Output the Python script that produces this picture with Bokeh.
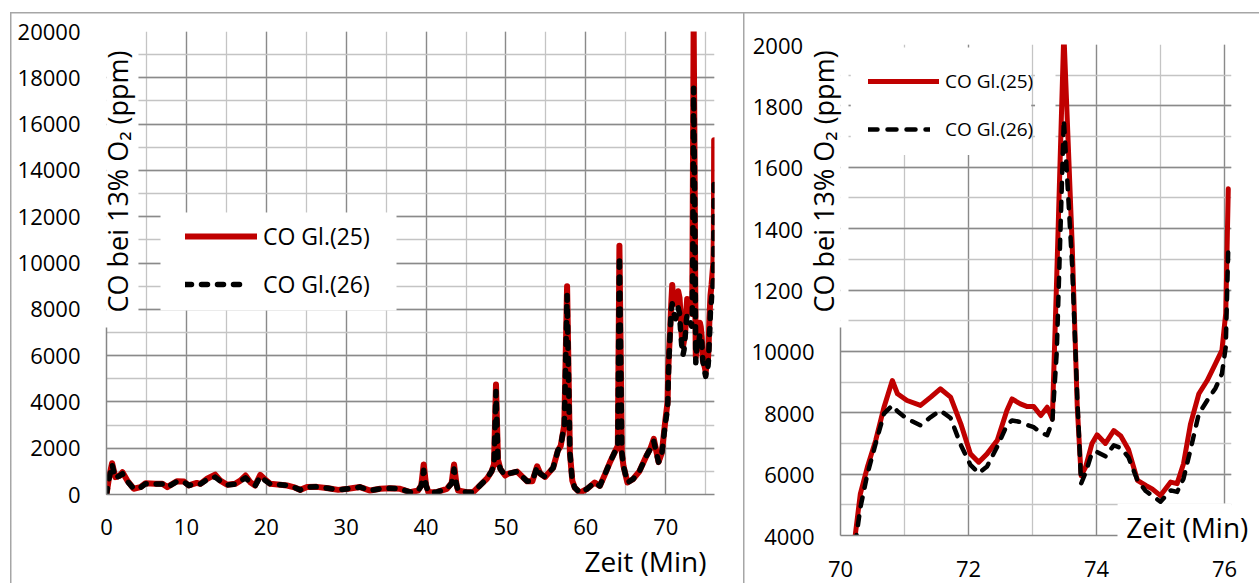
from bokeh.plotting import figure
from bokeh.models import (Range1d, SingleIntervalTicker, FixedTicker, LinearAxis,
                          BoxAnnotation, Legend, LegendItem, ColumnDataSource)
from bokeh.embed import file_html
from bokeh.resources import INLINE

# ---------------- data ----------------
zeit_min = [
    0.0, 0.3, 0.7, 1.1, 1.6, 2.0, 2.6, 3.4, 4.25, 4.9, 6.1, 7.0, 7.6, 8.8, 9.7,
    10.3, 11.3, 11.75, 12.6, 13.6, 14.25, 15.1, 16.1, 16.75, 17.4, 18.0, 18.6,
    19.25, 19.9, 20.5, 21.75, 22.6, 23.4, 24.25, 25.1, 26.3, 27.75, 29.0, 30.25,
    31.75, 33.0, 34.25, 35.5, 36.75, 38.0, 39.0, 39.4, 39.7, 40.0, 40.3, 41.3,
    42.6, 43.2, 43.5, 43.8, 44.0, 45.1, 45.9, 46.75, 47.6, 48.2, 48.5, 48.75,
    49.0, 49.3, 49.9, 50.3, 51.4, 52.65, 53.3, 53.9, 54.3, 54.9, 55.9, 56.5,
    56.85, 57.3, 57.65, 58.0, 58.3, 58.6, 59.25, 60.1, 61.1, 61.75, 62.4, 63.0,
    63.6, 64.0, 64.2, 64.5, 64.7, 65.2, 65.9, 66.7, 67.6, 68.1, 68.5, 69.1,
    69.5, 69.95,
    70.23, 70.31, 70.42, 70.55, 70.68, 70.81, 70.89, 71.04, 71.25, 71.41,
    71.56, 71.72, 71.88, 72.03, 72.16, 72.29, 72.45, 72.6, 72.68, 72.81,
    72.92, 73.02, 73.13, 73.23, 73.31, 73.38, 73.49, 73.62, 73.7, 73.76,
    73.83, 73.93, 74.01, 74.14, 74.27, 74.38, 74.5, 74.64, 74.77, 74.87,
    75.0, 75.16, 75.26, 75.36, 75.47, 75.6, 75.73, 75.86, 75.96, 76.02, 76.06,
]

co_gl25 = [
    0, 700, 1350, 750, 800, 960, 600, 250, 320, 490, 460, 460, 320, 575, 560,
    390, 500, 460, 680, 860, 600, 420, 460, 600, 820, 530, 390,
    850, 630, 460, 420, 390, 320, 200, 320, 330, 270, 200, 245,
    320, 170, 245, 270, 245, 100, 170, 400, 1300, 400, 100, 100,
    245, 500, 1300, 450, 170, 100, 100, 390, 680, 1000, 1300, 4750,
    1500, 1100, 820, 900, 990, 570, 570, 1220, 900, 760, 1150, 1900,
    2100, 3000, 9000, 1800, 600, 300, 80, 230, 520, 370, 880, 1380,
    1820, 2100, 10750, 1820, 1240, 520, 660, 1000, 1680, 2000, 2400, 1400,
    1790, 3200,
    4000, 5360, 6230, 7100, 8180, 9050, 8620, 8400, 8240, 8510,
    8780, 8510, 7640, 6660, 6390, 6660, 7100, 8070, 8450, 8290,
    8200, 8200, 7910, 8180, 7800, 12500, 20400, 13500, 8180, 5950,
    6230, 7000, 7280, 7000, 7420, 7240, 6800, 5800, 5630, 5520,
    5300, 5740, 5690, 6340, 7640, 8620, 9050, 9600, 10030, 11240, 15300,
]

co_gl26 = [
    0, 650, 1300, 700, 800, 900, 580, 250, 300, 460, 450, 450, 320, 560, 540,
    390, 480, 450, 650, 750, 580, 410, 450, 580, 720, 520, 380,
    780, 600, 450, 420, 390, 320, 200, 320, 330, 270, 200, 245,
    320, 170, 245, 270, 245, 100, 170, 380, 1050, 380, 100, 100,
    245, 480, 1100, 430, 170, 100, 100, 390, 680, 1000, 1250, 4450,
    1450, 1100, 820, 900, 990, 570, 570, 1200, 900, 760, 1150, 1900,
    2100, 3000, 8600, 1800, 600, 300, 80, 230, 520, 370, 880, 1380,
    1820, 2100, 10300, 1820, 1240, 520, 660, 1000, 1680, 2000, 2300, 1400,
    1750, 3100,
    3700, 4900, 6000, 7000, 7970, 8240, 8050, 7800, 7590, 7860,
    8070, 7830, 6950, 6300, 6030, 6250, 6900, 7590, 7750, 7700,
    7600, 7530, 7350, 7270, 7700, 10000, 17550, 12800, 8500, 5690,
    6050, 6700, 6720, 6580, 6940, 6850, 6550, 5800, 5450, 5300,
    5100, 5470, 5420, 5850, 6800, 7970, 8400, 8800, 9270, 10140, 13400,
]

series_names = ["CO Gl.(25)", "CO Gl.(26)"]
y_title = "CO bei 13% O\u2082 (ppm)"
x_title = "Zeit (Min)"

left_x_ticks = [0, 10, 20, 30, 40, 50, 60, 70]
left_x_labels = ["0", "10", "20", "30", "40", "50", "60", "70"]
left_y_ticks = [0, 2000, 4000, 6000, 8000, 10000, 12000, 14000, 16000, 18000, 20000]
left_y_labels = ["0", "2000", "4000", "6000", "8000", "10000", "12000", "14000",
                 "16000", "18000", "20000"]
right_x_ticks = [70, 72, 74, 76]
right_x_labels = ["70", "72", "74", "76"]
right_y_ticks = [4000, 6000, 8000, 10000, 12000, 14000, 16000, 18000, 20000]
right_y_labels = ["4000", "6000", "8000", "10000", "1200", "1400", "1600", "1800", "2000"]

# ---------------- styles ----------------
FONT = "Open Sans"
RED = "#C00000"
GRID_DARK = "#8a8a8a"
GRID_LIGHT = "#c4c4c4"
AXIS_COL = "#868686"
FRAME_COL = "#a6a6a6"

src = ColumnDataSource(dict(t=zeit_min, gl25=co_gl25, gl26=co_gl26))

NO_TICKS = dict(major_tick_out=0, major_tick_in=0, minor_tick_out=0, minor_tick_in=0,
                major_tick_line_color=None, minor_tick_line_color=None)


def base(p, xr, yr, xint, yint, xbounds, ybounds):
    """Grids + the two axis lines (default axes carry only the line)."""
    p.outline_line_color = None
    p.border_fill_color = None
    p.background_fill_color = "white"
    xt = SingleIntervalTicker(interval=xint, num_minor_ticks=2)
    yt = SingleIntervalTicker(interval=yint, num_minor_ticks=2)
    for g, t, b in ((p.xgrid[0], xt, xr), (p.ygrid[0], yt, yr)):
        g.ticker = t
        g.bounds = b
        g.grid_line_color = GRID_DARK
        g.grid_line_width = 1.3
        g.minor_grid_line_color = GRID_LIGHT
        g.minor_grid_line_width = 1.3
    for ax, b in ((p.xaxis[0], xbounds), (p.yaxis[0], ybounds)):
        ax.ticker = FixedTicker(ticks=[])
        ax.bounds = b
        ax.axis_line_color = AXIS_COL
        ax.axis_line_width = 1.5
        ax.major_label_text_font_size = "0px"
        ax.major_label_standoff = 0
        for k, v in NO_TICKS.items():
            setattr(ax, k, v)
    return xt, yt


def tick_axis(p, side, ticker, ticks, labels, standoff, pad_short=False):
    ov = {}
    for t, l in zip(ticks, labels):
        ov[t] = (l + "\u00a0\u00a0") if (pad_short and t >= 12000) else l
    ax = LinearAxis(ticker=ticker, major_label_overrides=ov, major_label_standoff=standoff,
                    axis_line_color=None, major_label_text_font=FONT,
                    major_label_text_font_size="22px", major_label_text_color="black",
                    **NO_TICKS)
    p.add_layout(ax, side)


def text_axis(p, side, pos, text, size, standoff, orientation="horizontal"):
    ax = LinearAxis(ticker=FixedTicker(ticks=[pos]), major_label_overrides={pos: text},
                    major_label_standoff=standoff, major_label_orientation=orientation,
                    axis_line_color=None, major_label_text_font=FONT,
                    major_label_text_font_size=size, major_label_text_color="black",
                    **NO_TICKS)
    p.add_layout(ax, side)


def add_lines(p, w25, w26, dash):
    r25 = p.line("t", "gl25", source=src, line_color=RED, line_width=w25,
                 line_join="round", line_cap="round")
    r26 = p.line("t", "gl26", source=src, line_color="black", line_width=w26,
                 line_dash=dash, line_cap="round", line_join="round")
    return r25, r26


def white_box(p, l, r, b, t):
    p.add_layout(BoxAnnotation(left=l, right=r, bottom=b, top=t, fill_color="white",
                               fill_alpha=1.0, line_color=None, level="underlay"))


def add_legend(p, r25, r26, x, y1, y2, w1, w2, s1, s2, fs, h):
    for r, name, y, w, s in ((r25, series_names[0], y1, w1, s1),
                             (r26, series_names[1], y2, w2, s2)):
        lg = Legend(items=[LegendItem(label=name, renderers=[r])], location=(x, y),
                    background_fill_alpha=0.0, border_line_color=None, padding=0,
                    margin=0, spacing=0, glyph_width=w, glyph_height=h, label_height=h,
                    label_standoff=s, label_text_font=FONT, label_text_font_size=fs,
                    label_text_color="black")
        p.add_layout(lg)


def frame_css(x0, width):
    g = "linear-gradient(%s, %s)" % (FRAME_COL, FRAME_COL)
    return ("%s %dpx 12px / 1.5px 580px no-repeat, %s %dpx 12px / %dpx 1.5px no-repeat"
            % (g, x0, g, x0, width))


# ---------------- left chart (0-76 min) ----------------
p1 = figure(width=743, height=583, title=None, x_range=Range1d(0, 76.1),
            y_range=Range1d(0, 20000), output_backend="svg", toolbar_location=None,
            min_border_left=106, min_border_right=29, min_border_top=31, min_border_bottom=89)
xt1, yt1 = base(p1, (0, 76.1), (0, 20000), 10, 2000, (0, 76.1), (0, 7214))
# left side: title (next to the frame), then tick labels
text_axis(p1, "left", 13520, y_title, "27px", -30, "vertical")
tick_axis(p1, "left", yt1, left_y_ticks, left_y_labels, 16)
# below: x title first (pushed down), tick labels pulled back up
text_axis(p1, "below", 67.46, x_title, "28px", 47)
tick_axis(p1, "below", xt1, left_x_ticks, left_x_labels, -64)
a25, a26 = add_lines(p1, 6, 5.5, "6 10")
white_box(p1, 0, 4.0, 7214, 19790)          # behind y title
white_box(p1, 6.76, 36.3, 7950, 12180)      # legend background
add_legend(p1, a25, a26, 79, 241, 193, 72, 62, 6, 16, "23px", 34)
p1.styles = {"background": frame_css(10, 733)}

# ---------------- right chart (70-76 min) ----------------
p2 = figure(width=516, height=583, title=None, x_range=Range1d(70, 76.11),
            y_range=Range1d(4000, 20000), output_backend="svg", toolbar_location=None,
            min_border_left=97, min_border_right=28, min_border_top=44, min_border_bottom=48)
xt2, yt2 = base(p2, (70, 76.11), (4000, 20000), 2, 2000, (70, 74.33), (4000, 10780))
text_axis(p2, "left", 15537, y_title, "27px", -2, "vertical")
tick_axis(p2, "left", yt2, right_y_ticks, right_y_labels, -12, pad_short=True)
tick_axis(p2, "below", xt2, right_x_ticks, right_x_labels, 25)
text_axis(p2, "below", 75.42, x_title, "28px", -72)
b25, b26 = add_lines(p2, 5, 4.5, "9 10")
white_box(p2, 70, 70.125, 10780, 20000)     # behind y title
white_box(p2, 70.16, 72.98, 16400, 19904)   # legend background
white_box(p2, 73.04, 73.36, 16400, 19904)
white_box(p2, 74.33, 76.11, 4000, 5043)     # behind x title
add_legend(p2, b25, b26, 28, 440, 392, 71, 62, 6, 15, "19px", 28)
p2.styles = {"position": "absolute", "left": "743px", "top": "0px",
             "background": frame_css(0, 516)}

open("out.html", "w").write(file_html([p1, p2], INLINE))
